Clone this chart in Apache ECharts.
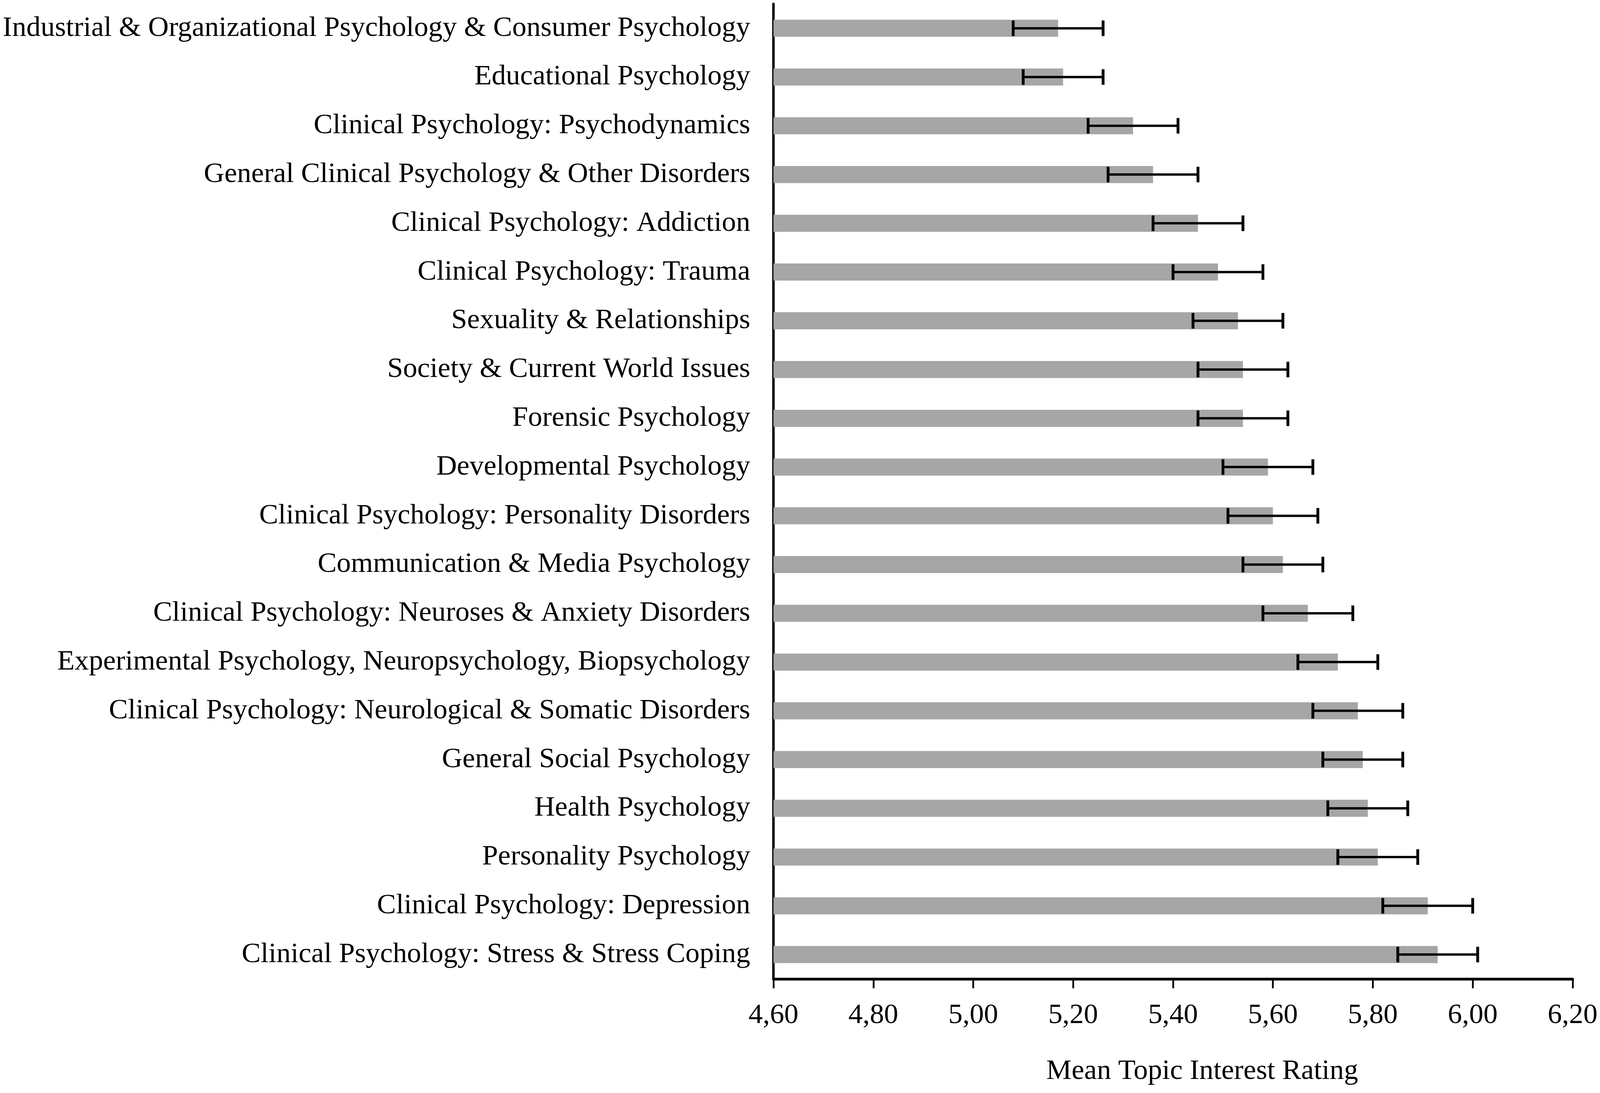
<!DOCTYPE html>
<html>
<head>
<meta charset="utf-8">
<title>Mean Topic Interest Rating</title>
<script src="https://cdn.jsdelivr.net/npm/echarts@6/dist/echarts.min.js"></script>
<style>
    html, body { margin: 0; padding: 0; background: #fff; overflow: hidden; }
    #chart { width: 100vw; height: 100vh; }
</style>
</head>
<body>
<div id="chart"></div>
<script>
// topics, top to bottom
var topics = [
    "Industrial & Organizational Psychology & Consumer Psychology",
    "Educational Psychology",
    "Clinical Psychology: Psychodynamics",
    "General Clinical Psychology & Other Disorders",
    "Clinical Psychology: Addiction",
    "Clinical Psychology: Trauma",
    "Sexuality & Relationships",
    "Society & Current World Issues",
    "Forensic Psychology",
    "Developmental Psychology",
    "Clinical Psychology: Personality Disorders",
    "Communication & Media Psychology",
    "Clinical Psychology: Neuroses & Anxiety Disorders",
    "Experimental Psychology, Neuropsychology, Biopsychology",
    "Clinical Psychology: Neurological & Somatic Disorders",
    "General Social Psychology",
    "Health Psychology",
    "Personality Psychology",
    "Clinical Psychology: Depression",
    "Clinical Psychology: Stress & Stress Coping"
];

// mean rating per topic
var means = [5.17, 5.18, 5.32, 5.36, 5.45, 5.49, 5.53, 5.54, 5.54, 5.59,
             5.60, 5.62, 5.67, 5.73, 5.77, 5.78, 5.79, 5.81, 5.91, 5.93];

// error bar half-width per topic
var errors = [0.09, 0.08, 0.09, 0.09, 0.09, 0.09, 0.09, 0.09, 0.09, 0.09,
              0.09, 0.08, 0.09, 0.08, 0.09, 0.08, 0.08, 0.08, 0.09, 0.08];

// x axis ticks
var tickValues = [4.6, 4.8, 5.0, 5.2, 5.4, 5.6, 5.8, 6.0, 6.2];
var tickLabels = ["4,60", "4,80", "5,00", "5,20", "5,40", "5,60", "5,80", "6,00", "6,20"];

var font = "'Liberation Serif', 'Times New Roman', serif";

// layout measured on the 4551 x 2798 original, scaled to the real page
var el = document.getElementById("chart");
var sx = el.clientWidth / 4551;
var sy = el.clientHeight / 2798;
var fs = 81 * Math.min(sx, sy);

var errData = means.map(function (m, i) {
    return [i, m - errors[i], m + errors[i]];
});

var chart = echarts.init(el);

var option = {
    backgroundColor: "#fff",
    animation: false,
    grid: {
        left: 2200 * sx,
        right: 78 * sx,
        top: 10 * sy,
        bottom: 292 * sy,
        containLabel: false,
        outerBoundsMode: "none"
    },
    xAxis: {
        type: "value",
        min: 4.6,
        max: 6.2,
        interval: 0.2,
        name: "Mean Topic Interest Rating",
        nameLocation: "middle",
        nameGap: 200 * sy,
        nameTextStyle: {
            fontFamily: font,
            fontSize: fs,
            color: "#000",
            padding: [0, 0, 0, 166 * sx]
        },
        axisLine: { show: true, lineStyle: { color: "#000", width: 7 * sy } },
        axisTick: { show: true, length: 24 * sy, lineStyle: { color: "#000", width: 5 * sx } },
        splitLine: { show: false },
        axisLabel: {
            fontFamily: font,
            fontSize: fs,
            color: "#000",
            margin: 57 * sy,
            formatter: function (v) {
                var k = tickValues.findIndex(function (t) { return Math.abs(t - v) < 1e-6; });
                return k >= 0 ? tickLabels[k] : "";
            }
        }
    },
    yAxis: {
        type: "category",
        data: topics,
        inverse: true,
        axisLine: { show: true, lineStyle: { color: "#000", width: 7 * sx } },
        axisTick: { show: false },
        axisLabel: {
            fontFamily: font,
            fontSize: fs,
            color: "#000",
            margin: 66 * sx
        }
    },
    series: [
        {
            name: "Mean",
            type: "bar",
            data: means,
            barWidth: "35%",
            itemStyle: { color: "#a6a6a6" }
        },
        {
            name: "Error",
            type: "custom",
            data: errData,
            encode: { x: [1, 2], y: 0 },
            z: 5,
            renderItem: function (params, api) {
                var idx = api.value(0);
                var lo = api.coord([api.value(1), idx]);
                var hi = api.coord([api.value(2), idx]);
                var cap = 20 * sy;
                var bar = { stroke: "#000", lineWidth: 6 * sy };
                var tick = { stroke: "#000", lineWidth: 8 * sx };
                return {
                    type: "group",
                    children: [
                        { type: "line", shape: { x1: lo[0], y1: lo[1], x2: hi[0], y2: hi[1] }, style: bar },
                        { type: "line", shape: { x1: lo[0], y1: lo[1] - cap, x2: lo[0], y2: lo[1] + cap }, style: tick },
                        { type: "line", shape: { x1: hi[0], y1: hi[1] - cap, x2: hi[0], y2: hi[1] + cap }, style: tick }
                    ]
                };
            }
        }
    ]
};

chart.setOption(option);
</script>
</body>
</html>
